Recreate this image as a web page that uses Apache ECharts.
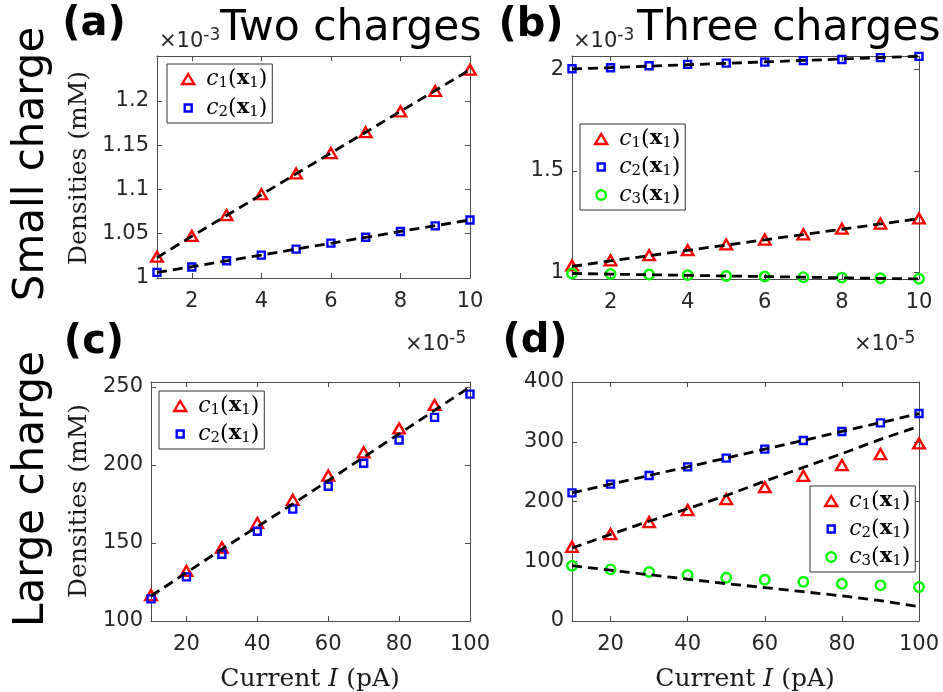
<!DOCTYPE html>
<html><head><meta charset="utf-8">
<script src="https://cdn.jsdelivr.net/npm/echarts@6/dist/echarts.min.js"></script>
<style>html,body{margin:0;padding:0;background:#fff}#c{width:943px;height:692px}</style>
</head><body><div id="c"></div>
<script>
// ---------- data ----------
const xSmall = [1, 2, 3, 4, 5, 6, 7, 8, 9, 10];          // ×10^-5
const xLarge = [10, 20, 30, 40, 50, 60, 70, 80, 90, 100];

// (a) two charges, small charge (×10^-3)
const aC1 = [1.024, 1.0475, 1.071, 1.0945, 1.118, 1.141, 1.1645, 1.188, 1.211, 1.235];
const aC2 = [1.0063, 1.0124, 1.0194, 1.0258, 1.0326, 1.0393, 1.046, 1.0524, 1.0588, 1.0655];
const aFit1 = [1.023, 1.047, 1.0705, 1.094, 1.1175, 1.141, 1.1645, 1.188, 1.2115, 1.235];
const aFit2 = [1.0063, 1.0127, 1.0193, 1.0259, 1.0326, 1.0392, 1.0459, 1.0525, 1.059, 1.0655];

// (b) three charges, small charge (×10^-3)
const bC1 = [1.035, 1.060, 1.085, 1.110, 1.138, 1.162, 1.188, 1.216, 1.241, 1.266];
const bC2 = [2.003, 2.008, 2.018, 2.025, 2.031, 2.036, 2.043, 2.049, 2.058, 2.064];
const bC3 = [0.995, 0.993, 0.990, 0.987, 0.983, 0.980, 0.977, 0.975, 0.972, 0.969];
const bFit1 = [1.030, 1.057, 1.083, 1.109, 1.135, 1.161, 1.187, 1.213, 1.239, 1.265];
const bFit2 = [2.002, 2.009, 2.016, 2.023, 2.030, 2.037, 2.044, 2.051, 2.058, 2.065];
const bFit3 = [0.995, 0.992, 0.989, 0.986, 0.983, 0.980, 0.977, 0.974, 0.971, 0.968];

// (c) two charges, large charge (mM)
const cC1 = [116.6, 132.1, 147.1, 162.8, 177.7, 193.2, 208.1, 223.4, 238.5, 253.9];
const cC2 = [114.2, 128.3, 142.8, 157.5, 171.7, 186.4, 201.1, 216.0, 230.5, 245.4];
const cFit = [116, 131, 146, 160.5, 175, 190, 205, 220, 235, 250];

// (d) three charges, large charge (mM)
const dC1 = [124.2, 145.5, 165.6, 185.6, 204, 224, 243, 261, 279.3, 297.2];
const dC2 = [214.5, 229, 243.6, 258, 272.6, 287.6, 302.2, 317.2, 331.6, 347.3];
const dC3 = [92.5, 86.4, 81.9, 76.9, 72.4, 69.1, 65.7, 62.4, 59.7, 56.9];
const dFit1 = [122, 145, 167, 188, 210, 234, 257, 280, 304, 326];
const dFit2 = [214.5, 229, 243.6, 258, 272.6, 287.6, 302.2, 317.2, 332, 347];
const dFit3 = [92.5, 85, 77.5, 70, 62.5, 56, 49, 42, 34, 24];

// axis ranges and tick labels
const smallXRange = [1, 10];
const largeXRange = [10, 100];
const smallXTicks = [2, 4, 6, 8, 10];
const largeXTicks = [20, 40, 60, 80, 100];
const aYRange = [1, 1.2505];
const aYTicks = [1, 1.05, 1.1, 1.15, 1.2];
const bYRange = [0.968, 2.066];
const bYTicks = [1, 1.5, 2];
const cYRange = [100, 253.2];
const cYTicks = [100, 150, 200, 250];
const dYRange = [0, 400];
const dYTicks = [0, 100, 200, 300, 400];

// texts
const panelLabels = ['(a)', '(b)', '(c)', '(d)'];
const titles = ['Two charges', 'Three charges'];
const rowLabels = ['Small charge', 'Large charge'];
const yLabel = 'Densities (mM)';
const xLabel = 'Current {i|I} (pA)';
const yExp = '-3';
const xExp = '-5';

// ---------- styling ----------
const AX = '#4a4a4a';
const TXT = '#262626';
const tickFont = { fontFamily: 'DejaVu Sans', fontSize: 21, color: TXT };
const grids = [
  { left: 157, top: 56, width: 313, height: 222 },
  { left: 572, top: 56, width: 347, height: 223 },
  { left: 151, top: 382, width: 319, height: 239 },
  { left: 572, top: 382, width: 347, height: 239 }
];
const panelAxes = [
  [smallXRange, smallXTicks, aYRange, aYTicks],
  [smallXRange, smallXTicks, bYRange, bYTicks],
  [largeXRange, largeXTicks, cYRange, cYTicks],
  [largeXRange, largeXTicks, dYRange, dYTicks]
];
const xAxes = [], yAxes = [];
panelAxes.forEach(([xr, xt, yr, yt], gi) => {
  ['bottom', 'top'].forEach((pos, k) => xAxes.push({
    type: 'value', gridIndex: gi, position: pos, min: xr[0], max: xr[1],
    axisLine: { show: true, onZero: false, lineStyle: { color: AX, width: 1 } },
    axisTick: { show: true, inside: true, length: 5, customValues: xt, lineStyle: { color: AX } },
    axisLabel: k === 0 ? Object.assign({ show: true, margin: 13, customValues: xt }, tickFont) : { show: false },
    splitLine: { show: false }
  }));
  ['left', 'right'].forEach((pos, k) => yAxes.push({
    type: 'value', gridIndex: gi, position: pos, min: yr[0], max: yr[1],
    axisLine: { show: true, onZero: false, lineStyle: { color: AX, width: 1 } },
    axisTick: { show: true, inside: true, length: 5, customValues: yt, lineStyle: { color: AX } },
    axisLabel: k === 0 ? Object.assign({ show: true, margin: 8, customValues: yt }, tickFont) : { show: false },
    splitLine: { show: false }
  }));
});

const RED = '#ff0000', BLUE = '#0000ff', GREEN = '#00ff00';
const markerDefs = {
  1: { symbol: 'triangle', size: [11.5, 10], color: RED },
  2: { symbol: 'rect', size: 7, color: BLUE },
  3: { symbol: 'circle', size: 9.5, color: GREEN }
};
const zip = (xs, ys) => xs.map((x, i) => [x, ys[i]]);
const series = [];
function addMarkers(name, gi, xs, ys, kind) {
  const m = markerDefs[kind];
  series.push({
    name, type: 'scatter', xAxisIndex: 2 * gi, yAxisIndex: 2 * gi, data: zip(xs, ys),
    symbol: m.symbol, symbolSize: m.size, z: 2,
    itemStyle: { color: 'rgba(0,0,0,0)', borderColor: m.color, borderWidth: 2.4, opacity: 1 },
    emphasis: { disabled: true }, silent: true
  });
}
function addFit(gi, xs, ys) {
  series.push({
    type: 'line', xAxisIndex: 2 * gi, yAxisIndex: 2 * gi, data: zip(xs, ys),
    symbol: 'none', showSymbol: false, z: 3, silent: true,
    lineStyle: { color: '#000', width: 2.8, type: [10, 6] }
  });
}
addMarkers('a1', 0, xSmall, aC1, 1); addMarkers('a2', 0, xSmall, aC2, 2);
addFit(0, xSmall, aFit1); addFit(0, xSmall, aFit2);
addMarkers('b1', 1, xSmall, bC1, 1); addMarkers('b2', 1, xSmall, bC2, 2); addMarkers('b3', 1, xSmall, bC3, 3);
addFit(1, xSmall, bFit1); addFit(1, xSmall, bFit2); addFit(1, xSmall, bFit3);
addMarkers('c1', 2, xLarge, cC1, 1); addMarkers('c2', 2, xLarge, cC2, 2);
addFit(2, xLarge, cFit);
addMarkers('d1', 3, xLarge, dC1, 1); addMarkers('d2', 3, xLarge, dC2, 2); addMarkers('d3', 3, xLarge, dC3, 3);
addFit(3, xLarge, dFit1); addFit(3, xLarge, dFit2); addFit(3, xLarge, dFit3);

// legend icons (bounding box 20x14 so nothing is stretched)
const icons = {
  1: 'path://M0,0M20,14M4,12L16,12L10,2Z',
  2: 'path://M0,0M20,14M6.5,3.5L13.5,3.5L13.5,10.5L6.5,10.5Z',
  3: 'path://M0,0M20,14M5.25,7A4.75,4.75 0 1 0 14.75,7A4.75,4.75 0 1 0 5.25,7Z'
};
const legendRich = {
  c: { fontFamily: 'DejaVu Serif', fontStyle: 'italic', fontSize: 22, color: '#000', lineHeight: 24 },
  s: { fontFamily: 'DejaVu Serif', fontSize: 15, color: '#000', padding: [9, 0, 0, 0] },
  p: { fontFamily: 'DejaVu Serif', fontSize: 22, color: '#000', lineHeight: 24 },
  x: { fontFamily: 'DejaVu Serif', fontWeight: 'bold', fontSize: 21, color: '#000', lineHeight: 24 }
};
function legendCfg(names, left, top, gap) {
  return {
    orient: 'vertical', left, top, itemWidth: 20, itemHeight: 14, itemGap: gap,
    padding: [4, 5, 3, 10], backgroundColor: '#fff', borderColor: '#333', borderWidth: 1,
    selectedMode: false,
    data: names.map(n => {
      const k = +n[1];
      return { name: n, icon: icons[k], itemStyle: { color: 'rgba(0,0,0,0)', borderColor: markerDefs[k].color, borderWidth: 2.4 } };
    }),
    formatter: n => `{c|c}{s|${n[1]}}{p|(}{x|x}{s|1}{p|)}`,
    textStyle: { rich: legendRich, padding: [0, 0, 0, 3] }
  };
}
const legends = [
  legendCfg(['a1', 'a2'], 167, 64, 6),
  legendCfg(['b1', 'b2', 'b3'], 580, 124, 5),
  legendCfg(['c1', 'c2'], 159, 391, 5),
  legendCfg(['d1', 'd2', 'd3'], 810, 486, 5)
];

// ---------- text graphics ----------
function text(x, y, str, opt) {
  return Object.assign({
    type: 'text', x, y, silent: true,
    style: Object.assign({ text: str, fill: '#000', align: 'center', verticalAlign: 'middle',
      textAlign: 'center', textVerticalAlign: 'middle' }, opt.style || {})
  }, opt.el || {});
}
const bold40 = { fontFamily: 'DejaVu Sans', fontWeight: 'bold', fontSize: 40 };
const titleFont = { fontFamily: 'DejaVu Sans', fontSize: 42.5, align: 'left', textAlign: 'left' };
const expRich = {
  a: { fontFamily: 'DejaVu Sans', fontSize: 21, fill: TXT, color: TXT },
  b: { fontFamily: 'DejaVu Sans', fontSize: 17, fill: TXT, color: TXT, padding: [0, 0, 12, 0] }
};
const expStyle = { rich: expRich, align: 'left', textAlign: 'left' };
const serifLbl = { fontFamily: 'DejaVu Serif', fontSize: 25, fill: '#1a1a1a',
  rich: { i: { fontFamily: 'DejaVu Serif', fontStyle: 'italic', fontSize: 25, fill: '#1a1a1a' } } };
const graphics = [
  text(94, 25, panelLabels[0], { style: bold40 }),
  text(531, 26, panelLabels[1], { style: bold40 }),
  text(94, 343, panelLabels[2], { style: bold40 }),
  text(535, 342, panelLabels[3], { style: bold40 }),
  text(220, 29, titles[0], { style: titleFont }),
  text(637, 29, titles[1], { style: titleFont }),
  text(32, 164, rowLabels[0], { style: { fontFamily: 'DejaVu Sans', fontSize: 42 }, el: { rotation: Math.PI / 2 } }),
  text(32, 489, rowLabels[1], { style: { fontFamily: 'DejaVu Sans', fontSize: 42 }, el: { rotation: Math.PI / 2 } }),
  text(79, 168, yLabel, { style: serifLbl, el: { rotation: Math.PI / 2 } }),
  text(79, 501, yLabel, { style: serifLbl, el: { rotation: Math.PI / 2 } }),
  text(310, 679, xLabel, { style: serifLbl }),
  text(745, 679, xLabel, { style: serifLbl }),
  text(159, 42, `{a|×10}{b|${yExp}}`, { style: expStyle }),
  text(573, 42, `{a|×10}{b|${yExp}}`, { style: expStyle }),
  text(405, 345, `{a|×10}{b|${xExp}}`, { style: expStyle }),
  text(854, 345, `{a|×10}{b|${xExp}}`, { style: expStyle })
];

const chart = echarts.init(document.getElementById('c'), null, { renderer: 'canvas' });
chart.setOption({
  animation: false,
  backgroundColor: '#fff',
  grid: grids,
  xAxis: xAxes,
  yAxis: yAxes,
  legend: legends,
  series,
  graphic: { elements: graphics }
});
</script>
</body></html>
